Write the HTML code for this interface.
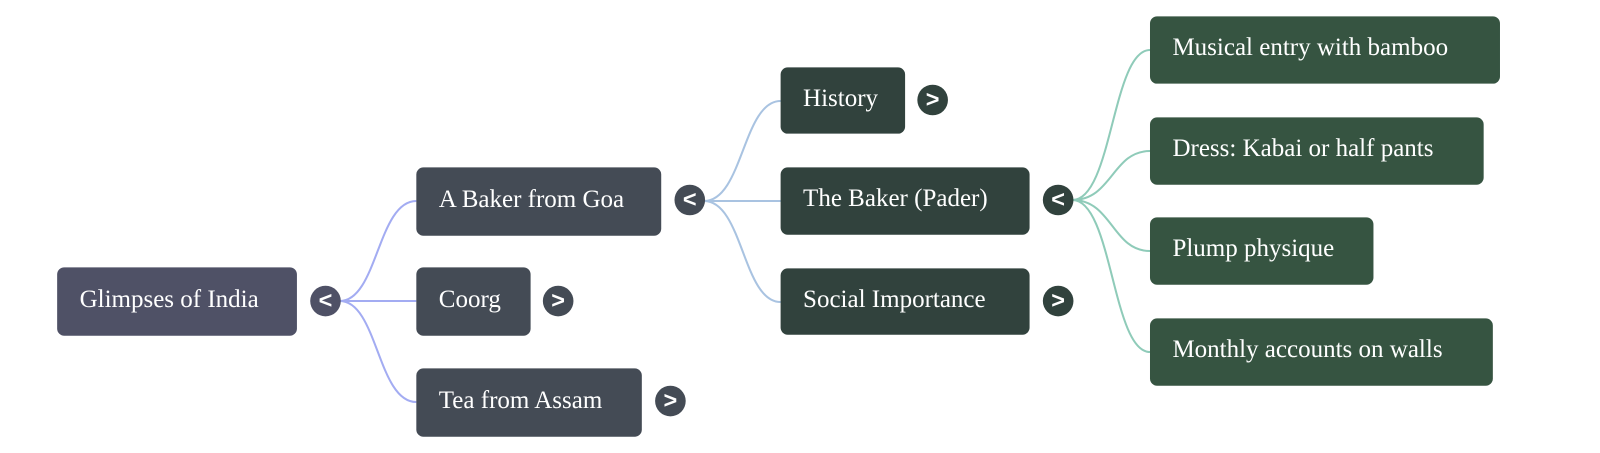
<!DOCTYPE html>
<html><head><style>
body{margin:0;width:1600px;height:453px;background:#fff;position:relative;overflow:hidden;font-family:"Liberation Serif",serif}
#w{position:absolute;left:0;top:0;width:1568px;height:444px;transform:scale(1.0204);transform-origin:0 0}
.n{position:absolute;color:#fff;font-size:24.5px;border-radius:7px;box-sizing:border-box;padding-left:22px;padding-bottom:4px;display:flex;align-items:center;white-space:nowrap}
.t{position:absolute;width:30px;height:30px;border-radius:50%;color:#fff;font-family:"Liberation Sans",sans-serif;font-size:23px;font-weight:bold;display:flex;align-items:center;justify-content:center;margin:-15px 0 0 -15px;padding-bottom:2px;box-sizing:border-box}
svg{position:absolute;left:0;top:0}
</style></head><body><div id="w">
<svg width="1568" height="444" fill="none" stroke-width="2">
<g stroke="#a3acf2">
<path d="M333 295 C370 295,370 197,408 197"/>
<path d="M333 295 L408 295"/>
<path d="M333 295 C370 295,370 394,408 394"/>
</g>
<g stroke="#a9c3e1">
<path d="M690 197 C728 197,728 99,765 99"/>
<path d="M690 197 L765 197"/>
<path d="M690 197 C728 197,728 296,765 296"/>
</g>
<g stroke="#8fcbb9">
<path d="M1051 196 C1090 196,1090 49,1127 49"/>
<path d="M1051 196 C1090 196,1090 148,1127 148"/>
<path d="M1051 196 C1090 196,1090 246,1127 246"/>
<path d="M1051 196 C1090 196,1090 345,1127 345"/>
</g>
</svg>
<div class="n" style="left:56px;top:262px;width:235px;height:67px;background:#4f5166">Glimpses of India</div>
<div class="t" style="left:319px;top:295px;background:#4f5166">&lt;</div>
<div class="n" style="left:408px;top:164px;width:240px;height:67px;background:#444b55">A Baker from Goa</div>
<div class="t" style="left:676px;top:196px;background:#444b55">&lt;</div>
<div class="n" style="left:408px;top:262px;width:112px;height:67px;background:#444b55">Coorg</div>
<div class="t" style="left:547px;top:295px;background:#444b55">&gt;</div>
<div class="n" style="left:408px;top:361px;width:221px;height:67px;background:#444b55">Tea from Assam</div>
<div class="t" style="left:657px;top:393px;background:#444b55">&gt;</div>
<div class="n" style="left:765px;top:66px;width:122px;height:65px;background:#31423d">History</div>
<div class="t" style="left:914px;top:98px;background:#31423d">&gt;</div>
<div class="n" style="left:765px;top:164px;width:244px;height:66px;background:#31423d">The Baker (Pader)</div>
<div class="t" style="left:1037px;top:196px;background:#31423d">&lt;</div>
<div class="n" style="left:765px;top:263px;width:244px;height:65px;background:#31423d">Social Importance</div>
<div class="t" style="left:1037px;top:295px;background:#31423d">&gt;</div>
<div class="n" style="left:1127px;top:16px;width:343px;height:66px;background:#365441">Musical entry with bamboo</div>
<div class="n" style="left:1127px;top:115px;width:327px;height:66px;background:#365441">Dress: Kabai or half pants</div>
<div class="n" style="left:1127px;top:213px;width:219px;height:66px;background:#365441">Plump physique</div>
<div class="n" style="left:1127px;top:312px;width:336px;height:66px;background:#365441">Monthly accounts on walls</div>
</div></body></html>
